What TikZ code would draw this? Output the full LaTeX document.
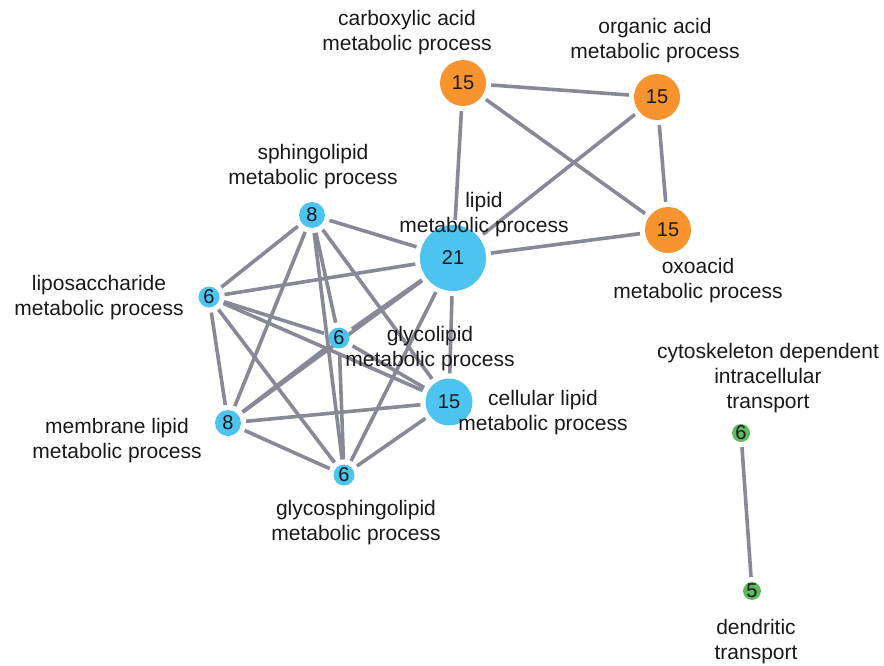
\documentclass[tikz,border=0pt]{standalone}
\usepackage{fontspec}
\setmainfont{Liberation Sans}
\usetikzlibrary{backgrounds}

\definecolor{acidorange}{RGB}{247,148,47}
\definecolor{lipidblue}{RGB}{77,196,239}
\definecolor{transgreen}{RGB}{95,185,95}
\definecolor{linkgray}{RGB}{135,137,150}
\definecolor{inkdark}{RGB}{25,25,25}

\begin{document}
\begin{tikzpicture}[x=1pt,y=-1pt,
    term/.style={circle, inner sep=0pt, text=inkdark, font=\fontsize{20}{24}\selectfont},
    link/.style={draw=linkgray, line width=3.6pt, shorten <=5pt, shorten >=5pt},
    caption/.style={align=center, inner sep=0pt, text=inkdark, font=\fontsize{21}{25}\selectfont}]
    \useasboundingbox (0,0) rectangle (884,665);

    % Acid cluster (orange)
    \node[term, fill=acidorange, minimum size=46pt] (carb) at (463,83) {15};
    \node[term, fill=acidorange, minimum size=46pt] (organic) at (657,97) {15};
    \node[term, fill=acidorange, minimum size=46pt] (oxo) at (668,230) {15};

    % Lipid cluster (blue)
    \node[term, fill=lipidblue, minimum size=66pt] (lipid) at (453,258) {21};
    \node[term, fill=lipidblue, minimum size=26pt] (sphingo) at (312,215) {8};
    \node[term, fill=lipidblue, minimum size=21pt] (liposac) at (209,297) {6};
    \node[term, fill=lipidblue, minimum size=21pt] (glycolip) at (339,338) {6};
    \node[term, fill=lipidblue, minimum size=47pt] (cellular) at (449,402) {15};
    \node[term, fill=lipidblue, minimum size=26pt] (membrane) at (228,423) {8};
    \node[term, fill=lipidblue, minimum size=21pt] (glycosph) at (344,475) {6};

    % Transport pair (green)
    \node[term, fill=transgreen, minimum size=18pt] (cytosk) at (741,433) {6};
    \node[term, fill=transgreen, minimum size=17pt] (dendrit) at (752,591) {5};

    % Labels
    \node[caption] (carb-lbl) at (407,33) {carboxylic acid\\metabolic process};
    \node[caption] (organic-lbl) at (655,41) {organic acid\\metabolic process};
    \node[caption] (oxo-lbl) at (698,281) {oxoacid\\metabolic process};
    \node[caption] (lipid-lbl) at (484,215) {lipid\\metabolic process};
    \node[caption] (sphingo-lbl) at (313,167) {sphingolipid\\metabolic process};
    \node[caption] (liposac-lbl) at (99,298) {liposaccharide\\metabolic process};
    \node[caption] (glycolip-lbl) at (430,349) {glycolipid\\metabolic process};
    \node[caption] (cellular-lbl) at (543,413) {cellular lipid\\metabolic process};
    \node[caption] (membrane-lbl) at (117,441) {membrane lipid\\metabolic process};
    \node[caption] (glycosph-lbl) at (356,523) {glycosphingolipid\\metabolic process};
    \node[caption] (cytosk-lbl) at (768,378) {cytoskeleton dependent\\intracellular\\transport};
    \node[caption] (dendrit-lbl) at (756,642) {dendritic\\transport};

    \begin{scope}[on background layer]
        % Edges among the acid terms
        \draw[link] (carb) -- (organic);
        \draw[link] (carb) -- (oxo);
        \draw[link] (organic) -- (oxo);
        \draw[link] (carb) -- (lipid);
        \draw[link] (organic) -- (lipid);
        \draw[link] (oxo) -- (lipid);

        % Edges from lipid metabolic process
        \draw[link] (lipid) -- (sphingo);
        \draw[link] (lipid) -- (liposac);
        \draw[link] (lipid) -- (glycolip);
        \draw[link] (lipid) -- (cellular);
        \draw[link] (lipid) -- (membrane);
        \draw[link] (lipid) -- (glycosph);

        % Edges among the remaining lipid terms
        \draw[link] (sphingo) -- (liposac);
        \draw[link] (sphingo) -- (glycolip);
        \draw[link] (sphingo) -- (cellular);
        \draw[link] (sphingo) -- (membrane);
        \draw[link] (sphingo) -- (glycosph);
        \draw[link] (liposac) -- (glycolip);
        \draw[link] (liposac) -- (cellular);
        \draw[link] (liposac) -- (membrane);
        \draw[link] (liposac) -- (glycosph);
        \draw[link] (glycolip) -- (cellular);
        \draw[link] (glycolip) -- (membrane);
        \draw[link] (glycolip) -- (glycosph);
        \draw[link] (cellular) -- (membrane);
        \draw[link] (cellular) -- (glycosph);
        \draw[link] (membrane) -- (glycosph);

        % Transport edge
        \draw[link] (cytosk) -- (dendrit);
    \end{scope}
\end{tikzpicture}
\end{document}
